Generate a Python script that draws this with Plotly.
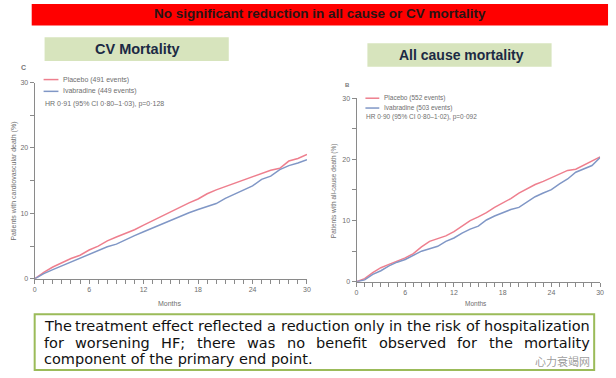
import plotly.graph_objects as go

W, H = 616, 378

months = list(range(31))
cv_placebo = [0, 1.0, 1.8, 2.5, 3.1, 3.6, 4.4, 5.0, 5.8, 6.4, 6.9, 7.5, 8.2, 8.9, 9.6, 10.3,
              11.0, 11.6, 12.2, 13.0, 13.6, 14.1, 14.6, 15.1, 15.7, 16.2, 16.6, 16.9, 18.0, 18.4, 19.0]
cv_ivabradine = [0, 0.8, 1.4, 2.0, 2.6, 3.1, 3.7, 4.3, 4.9, 5.3, 6.0, 6.6, 7.2, 7.8, 8.4, 8.9,
                 9.5, 10.1, 10.6, 11.0, 11.5, 12.3, 12.9, 13.5, 14.2, 15.2, 15.7, 16.7, 17.3, 17.7, 18.2]
all_placebo = [0, 0.5, 1.5, 2.3, 2.85, 3.4, 3.9, 4.6, 5.7, 6.6, 7.0, 7.5, 8.2, 9.1, 10.0, 10.6,
               11.3, 12.15, 12.9, 13.6, 14.5, 15.2, 15.9, 16.4, 17.0, 17.6, 18.2, 18.4, 19.1, 19.8, 20.4]
all_ivabradine = [0, 0.3, 1.2, 1.8, 2.6, 3.2, 3.65, 4.3, 5.0, 5.4, 5.8, 6.6, 7.15, 7.95, 8.6, 9.1,
                  10.1, 10.75, 11.3, 11.8, 12.15, 13.1, 13.9, 14.5, 15.05, 16.0, 16.8, 17.9, 18.4, 19.0, 20.3]

x_tick_vals = [0, 6, 12, 18, 24, 30]
y_tick_vals = [0, 10, 20, 30]

body_lines = [
    "The treatment effect reflected a reduction only in the risk of hospitalization",
    "for worsening HF; there was no benefit observed for the mortality",
    "component of the primary end point.",
]

PINK = "#ee7f8e"
BLUE = "#8097c6"
AX = "#8a8a8a"
TXT = "#6e6e6e"
FONT = "Liberation Sans"
BODY_FONT = "DejaVu Sans"
BODY_SIZE = 14.5

# approximate DejaVu Sans advance widths (em)
DJ = {' ': 0.318, 'a': 0.613, 'b': 0.635, 'c': 0.550, 'd': 0.635, 'e': 0.615, 'f': 0.352, 'g': 0.635,
      'h': 0.634, 'i': 0.278, 'j': 0.278, 'k': 0.579, 'l': 0.278, 'm': 0.974, 'n': 0.634, 'o': 0.612,
      'p': 0.635, 'q': 0.635, 'r': 0.411, 's': 0.521, 't': 0.392, 'u': 0.634, 'v': 0.592, 'w': 0.818,
      'x': 0.592, 'y': 0.592, 'z': 0.525, 'H': 0.752, 'F': 0.575, 'T': 0.611, ';': 0.337, '.': 0.318}


def text_w(s, size):
    return sum(DJ.get(c, 0.6) for c in s) * size


def px(x):
    return x / W


def py(y):
    return 1 - y / H


fig = go.Figure()
fig.add_trace(go.Scatter(x=months, y=cv_placebo, mode="lines", line=dict(color=PINK, width=1.5),
                         xaxis="x", yaxis="y", showlegend=False))
fig.add_trace(go.Scatter(x=months, y=cv_ivabradine, mode="lines", line=dict(color=BLUE, width=1.5),
                         xaxis="x", yaxis="y", showlegend=False))
fig.add_trace(go.Scatter(x=months, y=all_placebo, mode="lines", line=dict(color=PINK, width=1.5),
                         xaxis="x2", yaxis="y2", showlegend=False))
fig.add_trace(go.Scatter(x=months, y=all_ivabradine, mode="lines", line=dict(color=BLUE, width=1.5),
                         xaxis="x2", yaxis="y2", showlegend=False))


def xaxis(domain, anchor):
    return dict(domain=domain, range=[0, 30], anchor=anchor, showline=True, linecolor=AX, linewidth=1,
                ticks="outside", ticklen=4, tickcolor=AX, tickvals=x_tick_vals,
                tickfont=dict(size=7, color=TXT, family=FONT), showgrid=False, zeroline=False,
                minor=dict(ticks="outside", dtick=1, ticklen=4, tickcolor=AX, showgrid=False),
                fixedrange=True)


def yaxis(domain, anchor):
    return dict(domain=domain, range=[0, 30], anchor=anchor, showline=True, linecolor=AX, linewidth=1,
                ticks="outside", ticklen=4, tickcolor=AX, tickvals=y_tick_vals,
                tickfont=dict(size=7, color=TXT, family=FONT), showgrid=False, zeroline=False,
                minor=dict(ticks="outside", dtick=5, ticklen=4, tickcolor=AX, showgrid=False),
                fixedrange=True)


shapes = [
    dict(type="rect", xref="paper", yref="paper", x0=px(30), x1=px(612), y0=py(22), y1=py(0),
         fillcolor="#ff0000", line=dict(width=0), layer="below"),
    dict(type="rect", xref="paper", yref="paper", x0=px(43), x1=px(229), y0=py(58), y1=py(34),
         fillcolor="#d7e4bd", line=dict(width=0), layer="below"),
    dict(type="rect", xref="paper", yref="paper", x0=px(369), x1=px(555), y0=py(64), y1=py(40),
         fillcolor="#d7e4bd", line=dict(width=0), layer="below"),
    dict(type="rect", xref="paper", yref="paper", x0=px(33), x1=px(598), y0=py(373), y1=py(316),
         fillcolor="rgba(0,0,0,0)", line=dict(width=2, color="#9bbb59")),
    # legend samples
    dict(type="line", xref="paper", yref="paper", x0=px(42), x1=px(57), y0=py(77), y1=py(77),
         line=dict(color=PINK, width=1.5)),
    dict(type="line", xref="paper", yref="paper", x0=px(42), x1=px(57), y0=py(89), y1=py(89),
         line=dict(color=BLUE, width=1.5)),
    dict(type="line", xref="paper", yref="paper", x0=px(367), x1=px(381), y0=py(96), y1=py(96),
         line=dict(color=PINK, width=1.5)),
    dict(type="line", xref="paper", yref="paper", x0=px(367), x1=px(381), y0=py(106), y1=py(106),
         line=dict(color=BLUE, width=1.5)),
]


def ann(x, y, text, size=7, color=TXT, bold=False, xanchor="left", angle=0, family=FONT):
    t = f"<b>{text}</b>" if bold else text
    return dict(x=px(x), y=py(y), xref="paper", yref="paper", text=t, showarrow=False,
                xanchor=xanchor, yanchor="middle", textangle=angle,
                font=dict(size=size, color=color, family=family))


annotations = [
    ann(321, 10, "No significant reduction in all cause or CV mortality", size=13.5, color="#2a1414",
        bold=True, xanchor="center"),
    ann(137, 46, "CV Mortality", size=14.5, color="#1c2a44", bold=True, xanchor="center"),
    ann(464, 52, "All cause mortality", size=14, color="#1c2a44", bold=True, xanchor="center"),
    ann(22, 65, "C", size=7, color="#777", bold=True, xanchor="center"),
    ann(349, 83, "B", size=6, color="#777", bold=True, xanchor="center"),
    ann(60, 77, "Placebo (491 events)", size=7),
    ann(60, 89, "Ivabradine (449 events)", size=7),
    ann(41, 102, "HR 0·91 (95% CI 0·80–1·03), p=0·128", size=7),
    ann(384, 96, "Placebo (552 events)", size=6.5),
    ann(384, 106, "Ivabradine (503 events)", size=6.5),
    ann(366, 115, "HR 0·90 (95% CI 0·80–1·02), p=0·092", size=6.5),
    ann(12, 180, "Patients with cardiovascular death (%)", size=7, xanchor="center", angle=-90),
    ann(336, 190, "Patients with all-cause death (%)", size=6.5, xanchor="center", angle=-90),
    ann(169, 305, "Months", size=7, xanchor="center"),
    ann(479, 305, "Months", size=6.5, xanchor="center"),
]

# justified body text: first two lines spread over the box width, last line left-aligned
LEFT, RIGHT = 40, 591
line_y = [328, 345, 362]
for i, (line, yy) in enumerate(zip(body_lines, line_y)):
    if i < len(body_lines) - 1:
        words = line.split(" ")
        ws = [text_w(w, BODY_SIZE) for w in words]
        gap = (RIGHT - LEFT - sum(ws)) / (len(words) - 1)
        xx = LEFT
        for w, wd in zip(words, ws):
            annotations.append(ann(xx, yy, w, size=BODY_SIZE, color="#111", family=BODY_FONT))
            xx += wd + gap
    else:
        annotations.append(ann(LEFT, yy, line, size=BODY_SIZE, color="#111", family=BODY_FONT))

annotations.append(ann(566, 363.5, "心力衰竭网", size=11, color="rgba(110,110,110,0.7)",
                       xanchor="center", family="Noto Sans CJK SC"))

fig.update_layout(
    width=W, height=H, autosize=False,
    margin=dict(l=0, r=0, t=0, b=0),
    paper_bgcolor="white", plot_bgcolor="white",
    xaxis=xaxis([px(33), px(308)], "y"),
    yaxis=yaxis([py(280), py(80)], "x"),
    xaxis2=xaxis([px(358), px(604)], "y2"),
    yaxis2=yaxis([py(283), py(96)], "x2"),
    shapes=shapes,
    annotations=annotations,
    showlegend=False,
)

fig.write_html("out.html", config=dict(displayModeBar=False),
               post_script="document.body.style.margin='0';document.body.style.padding='0';"
                           "document.documentElement.style.overflow='hidden';")
